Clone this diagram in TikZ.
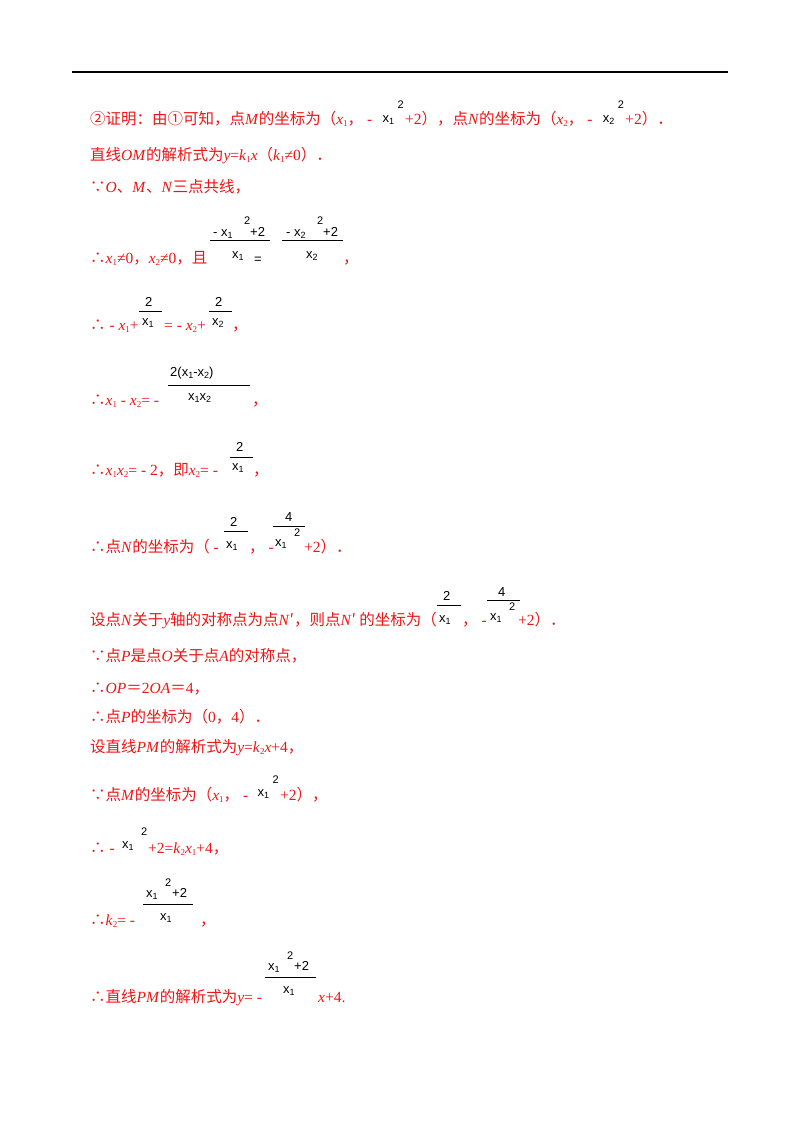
\documentclass[tikz,border=0pt]{standalone}
\usepackage{fontspec}
\setmainfont{Liberation Serif}
\newfontfamily\cjk{Noto Sans CJK SC}
\newfontfamily\fm{Liberation Sans}
\newcommand{\zh}[1]{{\cjk #1}}
\newcommand{\ssb}[1]{\raisebox{-0.35ex}{\fontsize{9}{9}\selectfont #1}}
\newcommand{\mi}[1]{\textit{#1}}
\definecolor{txtred}{RGB}{240,20,20}
\begin{document}
\begin{tikzpicture}[x=1pt,y=-1pt,
 R/.style={anchor=base west,inner sep=0pt,text=txtred,font=\fontsize{15.5}{15.5}\selectfont},
 F/.style={anchor=base west,inner sep=0pt,text=black,font=\fm\fontsize{13}{13}\selectfont},
 S/.style={anchor=base west,inner sep=0pt,text=black,font=\fm\fontsize{11}{11}\selectfont},
 bar/.style={line width=0.8pt}]
\useasboundingbox[fill=white] (0,0) rectangle (800,1132);
\draw[line width=1.6pt] (72,72) -- (728,72);
% line 1
\node[R] (a1) at (90,124) {\zh{②证明：由①可知，点}\mi{M}\zh{的坐标为（}\mi{x}\ssb{1}\zh{，} -};
\node[F] (a2) at ([xshift=10pt,yshift=2pt]a1.base east) {x\ssb{1}};
\node[S] (a3) at ([xshift=3pt,yshift=14pt]a2.base east) {2};
\node[R] (a4) at ([xshift=1pt]a1.base east -| a3.east) {+2\zh{），点}\mi{N}\zh{的坐标为（}\mi{x}\ssb{2}\zh{，} -};
\node[F] (a5) at ([xshift=10pt,yshift=2pt]a4.base east) {x\ssb{2}};
\node[S] (a6) at ([xshift=3pt,yshift=14pt]a5.base east) {2};
\node[R] (a7) at ([xshift=1pt]a4.base east -| a6.east) {+2\zh{）．}};
% line 2,3
\node[R] (b1) at (90,160) {\zh{直线}\mi{OM}\zh{的解析式为}\mi{y}=\mi{k}\ssb{1}\mi{x}\zh{（}\mi{k}\ssb{1}≠0\zh{）．}};
\node[R] (c1) at (90,192) {\zh{∵}\mi{O}\zh{、}\mi{M}\zh{、}\mi{N}\zh{三点共线，}};
% line 4
\node[R] (d1) at (90,263) {\zh{∴}\mi{x}\ssb{1}≠0\zh{，}\mi{x}\ssb{2}≠0\zh{，且}};
\node[F] (d2) at (213,236) {- x\ssb{1}};
\node[S] (d3) at (244,224) {2};
\node[F] (d4) at (250,236) {+2};
\draw[bar] (210,240) -- (270,240);
\node[F] (d5) at (232,258) {x\ssb{1}};
\node[F] (d6) at (254,263) {=};
\node[F] (d7) at (286,236) {- x\ssb{2}};
\node[S] (d8) at (317,224) {2};
\node[F] (d9) at (323,236) {+2};
\draw[bar] (282,240) -- (343,240);
\node[F] (d10) at (306,258) {x\ssb{2}};
\node[R] (d11) at (343,263) {\zh{，}};
% line 5
\node[R] (e1) at (90,330) {\zh{∴} - \mi{x}\ssb{1}+};
\node[F] (e2) at (145,306) {2};
\draw[bar] (139,311) -- (162,311);
\node[F] (e3) at (142,325) {x\ssb{1}};
\node[R] (e4) at (164,330) {= - \mi{x}\ssb{2}+};
\node[F] (e5) at (215,306) {2};
\draw[bar] (209,311) -- (232,311);
\node[F] (e6) at (212,325) {x\ssb{2}};
\node[R] (e7) at (232,330) {\zh{，}};
% line 6
\node[R] (f1) at (90,405) {\zh{∴}\mi{x}\ssb{1} - \mi{x}\ssb{2}= -};
\node[F] (f2) at (170,376) {2(x\ssb{1}-x\ssb{2})};
\draw[bar] (168,385) -- (250,385);
\node[F] (f3) at (188,400) {x\ssb{1}x\ssb{2}};
\node[R] (f4) at (252,405) {\zh{，}};
% line 7
\node[R] (g1) at (90,475) {\zh{∴}\mi{x}\ssb{1}\mi{x}\ssb{2}= - 2\zh{，即}\mi{x}\ssb{2}= -};
\node[F] (g2) at (236,451) {2};
\draw[bar] (230,457) -- (253,457);
\node[F] (g3) at (232,470) {x\ssb{1}};
\node[R] (g4) at (253,475) {\zh{，}};
% line 8
\node[R] (h1) at (90,552) {\zh{∴点}\mi{N}\zh{的坐标为（} -};
\node[F] (h2) at (230,526) {2};
\draw[bar] (224,531) -- (248,531);
\node[F] (h3) at (226,548) {x\ssb{1}};
\node[R] (h4) at (249,552) {\zh{，} -};
\node[F] (h5) at (285,521) {4};
\draw[bar] (273,526) -- (305,526);
\node[F] (h6) at (275,546) {x\ssb{1}};
\node[S] (h7) at (294,536) {2};
\node[R] (h8) at (304,552) {+2\zh{）．}};
% line 9
\node[R] (i1) at (90,625) {\zh{设点}\mi{N}\zh{关于}\mi{y}\zh{轴的对称点为点}\mi{N}\zh{′，则点}\mi{N}\zh{′ 的坐标为（}};
\node[F] (i2) at (443,600) {2};
\draw[bar] (437,605) -- (461,605);
\node[F] (i3) at (439,622) {x\ssb{1}};
\node[R] (i4) at (462,625) {\zh{，} -};
\node[F] (i5) at (498,596) {4};
\draw[bar] (487,600) -- (520,600);
\node[F] (i6) at (490,620) {x\ssb{1}};
\node[S] (i7) at (509,610) {2};
\node[R] (i8) at (518,625) {+2\zh{）．}};
% lines 10-13
\node[R] (j1) at (90,661) {\zh{∵点}\mi{P}\zh{是点}\mi{O}\zh{关于点}\mi{A}\zh{的对称点，}};
\node[R] (k1) at (90,693) {\zh{∴}\mi{OP}\zh{＝}2\mi{OA}\zh{＝}4\zh{，}};
\node[R] (l1) at (90,722) {\zh{∴点}\mi{P}\zh{的坐标为（}0\zh{，}4\zh{）．}};
\node[R] (m1) at (90,752) {\zh{设直线}\mi{PM}\zh{的解析式为}\mi{y}=\mi{k}\ssb{2}\mi{x}+4\zh{，}};
% line 14
\node[R] (n1) at (90,800) {\zh{∵点}\mi{M}\zh{的坐标为（}\mi{x}\ssb{1}\zh{，} -};
\node[F] (n2) at ([xshift=9pt,yshift=4pt]n1.base east) {x\ssb{1}};
\node[S] (n3) at ([xshift=3pt,yshift=13pt]n2.base east) {2};
\node[R] (n4) at ([xshift=1pt]n1.base east -| n3.east) {+2\zh{），}};
% line 15
\node[R] (o1) at (90,853) {\zh{∴} -};
\node[F] (o2) at (122,848) {x\ssb{1}};
\node[S] (o3) at (141,835) {2};
\node[R] (o4) at (148,853) {+2=\mi{k}\ssb{2}\mi{x}\ssb{1}+4\zh{，}};
% line 16
\node[R] (p1) at (90,925) {\zh{∴}\mi{k}\ssb{2}= -};
\node[F] (p2) at (146,897) {x\ssb{1}};
\node[S] (p3) at (165,886) {2};
\node[F] (p4) at (172,897) {+2};
\draw[bar] (143,904) -- (193,904);
\node[F] (p5) at (160,920) {x\ssb{1}};
\node[R] (p6) at (200,925) {\zh{，}};
% line 17
\node[R] (q1) at (90,1002) {\zh{∴直线}\mi{PM}\zh{的解析式为}\mi{y}= -};
\node[F] (q2) at (268,970) {x\ssb{1}};
\node[S] (q3) at (287,959) {2};
\node[F] (q4) at (294,970) {+2};
\draw[bar] (265,977) -- (316,977);
\node[F] (q5) at (283,993) {x\ssb{1}};
\node[R] (q6) at (318,1002) {\mi{x}+4.};
\end{tikzpicture}
\end{document}
